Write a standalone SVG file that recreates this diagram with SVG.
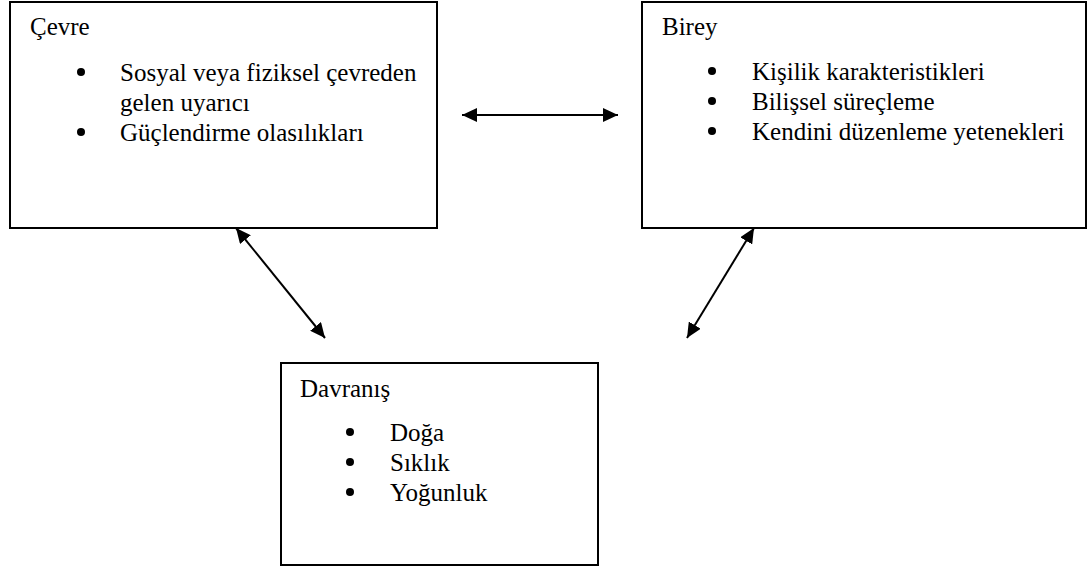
<svg xmlns="http://www.w3.org/2000/svg" width="1088" height="567" viewBox="0 0 1088 567">
<style>
.box{fill:#fff;stroke:#000;stroke-width:2}
text{font-family:"Liberation Serif","Times New Roman",serif;font-size:25px;fill:#000}
.bul{fill:#000}
.conn line{stroke:#000;stroke-width:2;marker-start:url(#ah);marker-end:url(#ah)}
</style>
<defs>
<marker id="ah" markerUnits="userSpaceOnUse" markerWidth="16" markerHeight="14" refX="15" refY="7" orient="auto-start-reverse" viewBox="0 0 16 14">
<path d="M0,0 L15,7 L0,14 z" fill="#000"/>
</marker>
</defs>
<g id="cevre">
<rect class="box" x="10" y="2" width="427" height="226"/>
<text x="30" y="35">Çevre</text>
<circle class="bul" cx="81" cy="72" r="4"/><text x="120" y="81">Sosyal veya fiziksel çevreden</text>
<text x="120" y="111">gelen uyarıcı</text>
<circle class="bul" cx="81" cy="132" r="4"/><text x="120" y="141">Güçlendirme olasılıkları</text>
</g>
<g id="birey">
<rect class="box" x="642" y="2" width="444" height="226"/>
<text x="662" y="35">Birey</text>
<circle class="bul" cx="712" cy="71" r="4"/><text x="752" y="80">Kişilik karakteristikleri</text>
<circle class="bul" cx="712" cy="101" r="4"/><text x="752" y="110">Bilişsel süreçleme</text>
<circle class="bul" cx="712" cy="131" r="4"/><text x="752" y="140">Kendini düzenleme yetenekleri</text>
</g>
<g id="davranis">
<rect class="box" x="281" y="363" width="317" height="202"/>
<text x="300" y="397">Davranış</text>
<circle class="bul" cx="350" cy="432" r="4"/><text x="390" y="441">Doğa</text>
<circle class="bul" cx="350" cy="462" r="4"/><text x="390" y="471">Sıklık</text>
<circle class="bul" cx="350" cy="492" r="4"/><text x="390" y="501">Yoğunluk</text>
</g>
<g id="connectors" class="conn">
<line x1="462" y1="115" x2="618" y2="115"/>
<line x1="236" y1="228" x2="325" y2="338"/>
<line x1="754" y1="228" x2="687" y2="338"/>
</g>
</svg>
